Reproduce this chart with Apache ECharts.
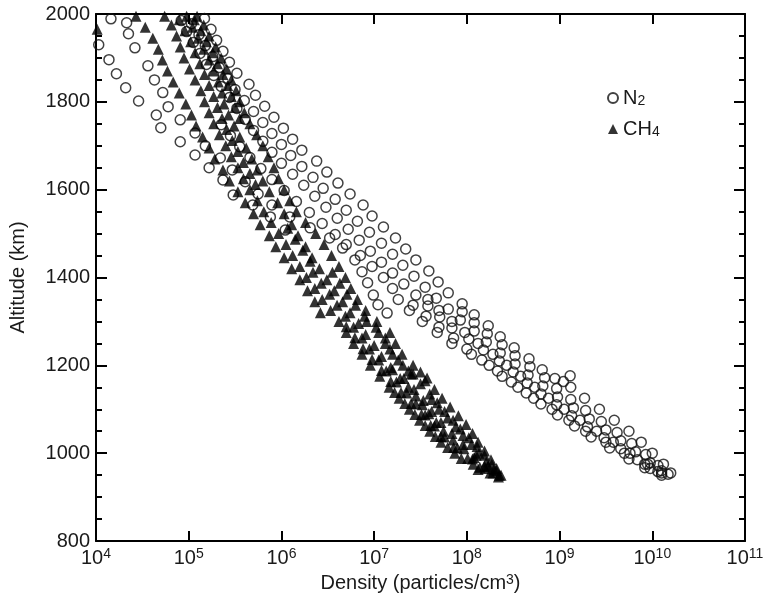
<!DOCTYPE html>
<html>
<head>
<meta charset="utf-8">
<script src="https://cdn.jsdelivr.net/npm/echarts@6/dist/echarts.min.js"></script>
<style>
html,body{margin:0;padding:0;background:#fff;}
#chart{width:769px;height:607px;}
</style>
</head>
<body>
<div id="chart"></div>
<script>
// ---- Data: [density (particles/cm^3), altitude (km)] ----
const n2PassA = [[1.07e4,1930],[1.38e4,1896],[1.66e4,1864],[2.09e4,1832],[2.88e4,1802],[4.47e4,1770],[5.0e4,1741],[8.1e4,1709],[1.17e5,1679],[1.66e5,1650],[2.34e5,1622],[3.02e5,1588],[4.9e5,1565],[7.6e5,1538],[1.10e6,1508]];
const n2PassB = [[1.45e4,1989],[2.14e4,1980],[2.24e4,1955],[2.63e4,1923],[3.63e4,1882],[4.27e4,1850],[5.25e4,1821],[6.0e4,1789],[8.1e4,1759],[1.17e5,1729],[1.51e5,1700],[2.19e5,1672],[2.95e5,1645],[4.07e5,1618],[5.6e5,1590],[7.9e5,1565],[1.23e6,1538],[2.04e6,1513],[3.31e6,1490],[4.57e6,1467],[6.2e6,1440],[7.4e6,1413],[8.5e6,1388],[9.8e6,1360],[1.10e7,1338],[1.38e7,1319]];
const n2PassC = [[1.48e5,1990],[1.74e5,1965],[2.0e5,1940],[2.34e5,1915],[2.75e5,1890],[3.31e5,1865],[4.47e5,1840],[5.25e5,1815],[6.6e5,1790],[8.3e5,1765],[1.05e6,1740],[1.32e6,1715],[1.66e6,1690],[2.4e6,1665],[3.09e6,1640],[4.07e6,1615],[5.5e6,1590],[7.6e6,1565],[9.5e6,1540],[1.26e7,1515],[1.70e7,1490],[2.19e7,1465],[2.82e7,1440],[3.89e7,1415],[4.9e7,1390],[6.3e7,1365],[8.9e7,1340],[1.20e8,1315],[1.70e8,1290],[2.29e8,1265],[3.24e8,1240],[4.68e8,1215],[6.5e8,1190],[8.9e8,1170],[1.32e9,1150],[1.86e9,1125],[2.69e9,1100],[3.89e9,1075],[5.6e9,1050],[7.6e9,1025],[1.0e10,1000],[1.32e10,975],[1.58e10,955]];
const n2PassD = [[1.07e5,1978],[1.29e5,1953],[1.51e5,1928],[1.82e5,1903],[2.14e5,1878],[2.63e5,1853],[3.16e5,1828],[3.98e5,1803],[5.0e5,1778],[6.3e5,1753],[7.9e5,1728],[1.0e6,1703],[1.26e6,1678],[1.66e6,1653],[2.19e6,1628],[2.82e6,1603],[3.8e6,1578],[5.0e6,1553],[6.6e6,1528],[8.9e6,1503],[1.20e7,1478],[1.58e7,1453],[2.04e7,1428],[2.69e7,1403],[3.55e7,1378],[4.68e7,1353],[6.3e7,1328],[8.5e7,1303],[1.20e8,1278],[1.62e8,1253],[2.29e8,1228],[3.31e8,1203],[4.57e8,1178],[6.6e8,1153],[9.5e8,1128],[1.41e9,1103],[2.09e9,1078],[3.16e9,1053],[4.57e9,1028],[6.6e9,1003],[9.5e9,978],[1.26e10,960]];
const n2PassE = [[8.3e4,1985],[9.5e4,1960],[1.12e5,1935],[1.32e5,1910],[1.55e5,1885],[1.86e5,1860],[2.24e5,1835],[2.75e5,1810],[3.31e5,1785],[4.07e5,1760],[5.0e5,1735],[6.3e5,1710],[7.9e5,1685],[1.0e6,1660],[1.32e6,1635],[1.74e6,1610],[2.29e6,1585],[3.02e6,1560],[4.0e6,1535],[5.25e6,1510],[6.9e6,1485],[9.1e6,1460],[1.20e7,1435],[1.58e7,1410],[2.09e7,1385],[2.82e7,1360],[3.8e7,1335],[5.1e7,1310],[6.9e7,1285],[1.05e8,1260],[1.51e8,1235],[2.24e8,1210],[3.16e8,1185],[4.47e8,1160],[6.3e8,1135],[9.3e8,1110],[1.35e9,1085],[2.0e9,1060],[3.02e9,1035],[4.57e9,1010],[6.9e9,985],[9.5e9,965],[1.26e10,950]];
const n2PassF = [[5.0e6,1475],[7.1e6,1450],[9.5e6,1425],[1.26e7,1400],[1.58e7,1375],[1.82e7,1350],[2.4e7,1325],[3.31e7,1300],[4.79e7,1275],[6.9e7,1250],[1.12e8,1225],[1.74e8,1200],[2.4e8,1175],[3.55e8,1150],[5.25e8,1125],[8.3e8,1100],[1.26e9,1075],[1.91e9,1050],[3.16e9,1025],[5.0e9,1000],[8.3e9,975],[1.26e10,955]];
const n2PassG = [[8.9e7,1322],[1.20e8,1297],[1.66e8,1272],[2.4e8,1247],[3.31e8,1222],[4.79e8,1197],[6.9e8,1172],[9.3e8,1147],[1.32e9,1122],[1.91e9,1097],[2.82e9,1072],[4.17e9,1047],[6.0e9,1022],[8.5e9,997],[1.15e10,972],[1.48e10,952]];
const n2PassH = [[2.63e7,1337],[3.63e7,1312],[5.0e7,1287],[7.2e7,1262],[1.0e8,1237],[1.45e8,1212],[2.14e8,1187],[3.02e8,1162],[4.37e8,1137],[6.3e8,1112],[9.5e8,1087],[1.45e9,1062],[2.19e9,1037],[3.47e9,1012],[5.6e9,987],[8.3e9,967]];
const n2PassI = [[2.24e5,1748],[2.82e5,1723],[3.55e5,1698],[4.57e5,1673],[6.0e5,1648],[7.9e5,1623],[1.07e6,1598],[1.45e6,1573],[2.0e6,1548],[2.75e6,1523],[3.8e6,1498]];
const n2PassJ = [[3.8e7,1350],[5.0e7,1325],[6.9e7,1300],[9.5e7,1275],[1.32e8,1250],[1.91e8,1225],[2.69e8,1200],[3.8e8,1175],[5.4e8,1150],[7.6e8,1125],[1.12e9,1100],[1.66e9,1075],[2.51e9,1050],[3.8e9,1025],[5.75e9,1000],[8.9e9,975],[1.15e10,958]];
const n2Extra = [[1.3e9,1176],[1.1e9,1163]];

const ch4PassA = [[2.7e4,1995],[3.4e4,1970],[4.1e4,1945],[4.7e4,1920],[5.2e4,1895],[5.9e4,1870],[6.8e4,1845],[7.9e4,1820],[9.3e4,1795],[1.07e5,1770],[1.2e5,1745],[1.41e5,1720],[1.66e5,1695],[1.91e5,1670],[2.34e5,1645],[2.75e5,1620],[3.39e5,1595],[4.07e5,1570],[5.0e5,1545],[5.9e5,1520],[7.4e5,1495],[8.7e5,1470],[1.07e6,1445],[1.29e6,1420],[1.58e6,1395],[1.91e6,1370],[2.29e6,1345],[2.63e6,1320]];
const ch4PassB = [[5.5e4,1995],[6.5e4,1975],[7.4e4,1950],[8.1e4,1925],[8.9e4,1900],[1.02e5,1875],[1.17e5,1850],[1.35e5,1825],[1.48e5,1800],[1.66e5,1775],[1.86e5,1750],[2.14e5,1725],[2.51e5,1700],[2.88e5,1675],[3.39e5,1650],[3.89e5,1625],[4.57e5,1600],[5.5e5,1575],[6.46e5,1550],[7.76e5,1525],[9.33e5,1500],[1.12e6,1475],[1.32e6,1450],[1.58e6,1425],[1.86e6,1400],[2.29e6,1375],[2.75e6,1350],[3.39e6,1325],[4.17e6,1300],[5.0e6,1275],[6.0e6,1250],[7.4e6,1225],[9.1e6,1200],[1.15e7,1175],[1.45e7,1150],[1.86e7,1125],[2.4e7,1100],[3.09e7,1075],[3.98e7,1050],[5.25e7,1025],[7.4e7,1000],[1.17e8,975],[1.78e8,955],[2.19e8,946]];
const ch4PassC = [[9.5e4,1995],[1.10e5,1970],[1.26e5,1945],[1.45e5,1920],[1.66e5,1895],[1.86e5,1870],[2.09e5,1845],[2.29e5,1820],[2.4e5,1795],[2.69e5,1770],[3.09e5,1745],[3.55e5,1720],[4.17e5,1695],[4.79e5,1670],[5.5e5,1645],[6.3e5,1620],[7.4e5,1595],[9.1e5,1570],[1.07e6,1545],[1.29e6,1520],[1.51e6,1495],[1.82e6,1470],[2.14e6,1445],[2.57e6,1420],[3.09e6,1395],[3.72e6,1370],[4.57e6,1345],[5.5e6,1320],[6.8e6,1295],[8.1e6,1270],[1.0e7,1245],[1.2e7,1220],[1.51e7,1195],[2.09e7,1170],[2.69e7,1145],[3.39e7,1120],[4.17e7,1095],[5.25e7,1070],[6.9e7,1045],[9.1e7,1020],[1.26e8,995],[1.70e8,970],[2.24e8,950]];
const ch4PassD = [[1.23e5,1995],[1.45e5,1975],[1.66e5,1950],[1.95e5,1925],[2.24e5,1900],[2.57e5,1875],[2.88e5,1850],[3.24e5,1825],[3.55e5,1800],[3.98e5,1775],[4.57e5,1750],[5.4e5,1725],[6.3e5,1700],[7.2e5,1675],[8.3e5,1650],[9.3e5,1625],[1.07e6,1600],[1.23e6,1575],[1.45e6,1550],[1.82e6,1525],[2.34e6,1500],[2.88e6,1475],[3.47e6,1450],[4.17e6,1425],[4.9e6,1400],[5.6e6,1375],[6.6e6,1350],[8.1e6,1325],[1.07e7,1300],[1.48e7,1275],[1.70e7,1250],[2.0e7,1225],[2.63e7,1200],[3.16e7,1185],[3.72e7,1171]];
const ch4PassE = [[3.55e7,1165],[4.47e7,1145],[5.4e7,1125],[6.6e7,1105],[8.1e7,1085],[9.8e7,1065],[1.15e8,1045],[1.32e8,1025],[1.55e8,1005],[1.82e8,985],[2.09e8,965],[2.34e8,950]];
const ch4PassF = [[1.58e7,1190],[1.91e7,1170],[2.34e7,1150],[2.82e7,1130],[3.31e7,1110],[3.89e7,1090],[4.68e7,1070],[5.6e7,1050],[7.1e7,1030],[9.3e7,1010],[1.20e8,990],[1.55e8,970],[1.91e8,955]];
const ch4PassG = [[2.19e6,1412],[2.69e6,1387],[3.31e6,1362],[3.98e6,1337],[4.9e6,1312],[6.0e6,1287],[7.4e6,1262],[8.9e6,1237],[1.12e7,1212],[1.35e7,1187],[1.74e7,1162],[2.24e7,1137],[2.82e7,1112],[3.55e7,1087],[4.47e7,1062],[5.75e7,1037],[7.9e7,1012],[1.15e8,987],[1.58e8,965]];
const ch4PassH = [[3.55e6,1412],[4.27e6,1387],[5.1e6,1362],[6.3e6,1337],[7.9e6,1312],[1.05e7,1287],[1.32e7,1262],[1.48e7,1237],[1.82e7,1212],[2.34e7,1187]];
const ch4PassI = [[7.9e4,1987],[9.1e4,1962],[1.05e5,1937],[1.17e5,1912],[1.32e5,1887],[1.48e5,1862],[1.66e5,1837],[1.86e5,1812],[2.04e5,1787],[2.29e5,1762],[2.57e5,1737],[2.95e5,1712],[3.39e5,1687],[3.89e5,1662],[4.57e5,1637],[5.25e5,1612]];
const ch4PassJ = [[1.15e5,1987],[1.35e5,1962],[1.55e5,1937],[1.82e5,1912],[2.04e5,1887],[2.34e5,1862],[2.63e5,1837],[2.88e5,1812],[3.16e5,1787],[3.55e5,1762]];
const ch4PassK = [[5.0e6,1288],[6.2e6,1263],[7.6e6,1238],[9.5e6,1213],[1.2e7,1188],[1.51e7,1163],[1.95e7,1138],[2.51e7,1113],[3.24e7,1088],[4.07e7,1063],[5.25e7,1038],[7.2e7,1013],[1.02e8,988],[1.38e8,968]];
const ch4PassL = [[2.51e7,1180],[3.16e7,1158],[3.98e7,1135],[4.79e7,1115],[5.75e7,1095],[7.1e7,1075],[8.5e7,1055],[1.05e8,1035],[1.29e8,1015],[1.55e8,995],[1.86e8,975],[2.09e8,960]];
const ch4PassM = [[1.17e6,1512],[1.41e6,1487],[1.70e6,1462],[2.04e6,1437]];
const ch4PassN = [[8.3e6,1300],[1.12e7,1275],[1.32e7,1250],[1.58e7,1225],[2.04e7,1200],[2.63e7,1180]];
const ch4PassO = [[1.66e7,1138],[2.14e7,1113],[2.75e7,1088],[3.55e7,1063],[4.57e7,1038],[6.2e7,1013],[8.7e7,988],[1.32e8,963]];
const ch4PassP = [[4.17e7,1122],[5.0e7,1100],[6.2e7,1080],[7.6e7,1060],[9.1e7,1040],[1.12e8,1020],[1.35e8,1000],[1.62e8,980],[1.95e8,962]];
const ch4Extra = [[1.03e4,1965]];

// ---- Axis ticks ----
const xTickExponents = ['4','5','6','7','8','9','10','11'];
const yTickLabels = ['800','1000','1200','1400','1600','1800','2000'];
const seriesNames = ['N2','CH4'];

const n2Data = [].concat(n2PassA, n2PassB, n2PassC, n2PassD, n2PassE, n2PassF, n2PassG, n2PassH, n2PassI, n2PassJ, n2Extra);
const ch4Data = [].concat(ch4PassA, ch4PassB, ch4PassC, ch4PassD, ch4PassE, ch4PassF, ch4PassG, ch4PassH, ch4PassI, ch4PassJ, ch4PassK, ch4PassL, ch4PassM, ch4PassN, ch4PassO, ch4PassP, ch4Extra);

const FONT = '"Liberation Sans", Arial, Helvetica, sans-serif';
const TXT = '#1a1a1a';

const axisLineStyle = {color:'#000', width:2};
function xAxisBase(pos, showLabel){
  return {
    type:'log', logBase:10, min:1e4, max:1e11, position:pos, splitNumber:7,
    axisLine:{show:true, lineStyle:axisLineStyle},
    axisTick:{show:true, inside:true, length:10, lineStyle:{color:'#000', width:2}},
    minorTick:{show:false}, splitLine:{show:false},
    axisLabel:{
      show:showLabel, margin:6, color:TXT, fontFamily:FONT,
      formatter:function(v){
        const e = xTickExponents[Math.round(Math.log10(v)) - 4];
        return '{b|10}{sup|' + e + '}';
      },
      rich:{
        b:{fontSize:20, lineHeight:22, fontFamily:FONT, color:TXT},
        sup:{fontSize:14, lineHeight:14, verticalAlign:'top', fontFamily:FONT, color:TXT}
      }
    }
  };
}
function yAxisBase(pos, showLabel){
  return {
    type:'value', min:800, max:2000, interval:200, position:pos,
    axisLine:{show:true, lineStyle:axisLineStyle},
    axisTick:{show:true, inside:true, length:11, lineStyle:{color:'#000', width:2}},
    minorTick:{show:true, splitNumber:4, length:6, lineStyle:{color:'#000', width:2}},
    splitLine:{show:false},
    axisLabel:{
      show:showLabel, margin:6, color:TXT, fontSize:20, fontFamily:FONT,
      formatter:function(v){ return yTickLabels[Math.round((v-800)/200)]; }
    }
  };
}

const xb = xAxisBase('bottom', true);
xb.name = 'Density (particles/cm{sup|3})';
xb.nameLocation = 'middle';
xb.nameGap = 31;
xb.nameTextStyle = {fontSize:20, color:TXT, fontFamily:FONT, lineHeight:22,
  rich:{sup:{fontSize:14, lineHeight:13, verticalAlign:'top', fontFamily:FONT, color:TXT}}};
const xt = xAxisBase('top', false);
xt.axisLabel.show = false;

const yl = yAxisBase('left', true);
yl.name = 'Altitude (km)';
yl.nameLocation = 'middle';
yl.nameGap = 68;
yl.nameTextStyle = {fontSize:20, color:TXT, fontFamily:FONT};
const yr = yAxisBase('right', false);

const chart = echarts.init(document.getElementById('chart'), null, {renderer:'canvas'});
chart.setOption({
  animation:false,
  backgroundColor:'#fff',
  grid:{left:96, right:24, top:14, bottom:66, containLabel:false},
  xAxis:[xb, xt],
  yAxis:[yl, yr],
  legend:{
    data:seriesNames, orient:'vertical', left:602, top:83, itemGap:11,
    itemWidth:10, itemHeight:10, selectedMode:false,
    textStyle:{fontSize:20, color:TXT, fontFamily:FONT, lineHeight:20,
      rich:{sub:{fontSize:14, lineHeight:13, verticalAlign:'bottom', fontFamily:FONT, color:TXT}}},
    formatter:function(name){ return name === 'N2' ? 'N{sub|2}' : 'CH{sub|4}'; }
  },
  series:[
    {name:'N2', type:'scatter', xAxisIndex:0, yAxisIndex:0, data:n2Data,
     symbol:'circle', symbolSize:10,
     itemStyle:{color:'rgba(255,255,255,0)', borderColor:'#111', borderWidth:1.5},
     emphasis:{disabled:true}},
    {name:'CH4', type:'scatter', xAxisIndex:0, yAxisIndex:0, data:ch4Data,
     symbol:'triangle', symbolSize:[11,11],
     itemStyle:{color:'#000'},
     emphasis:{disabled:true}}
  ]
});
</script>
</body>
</html>
